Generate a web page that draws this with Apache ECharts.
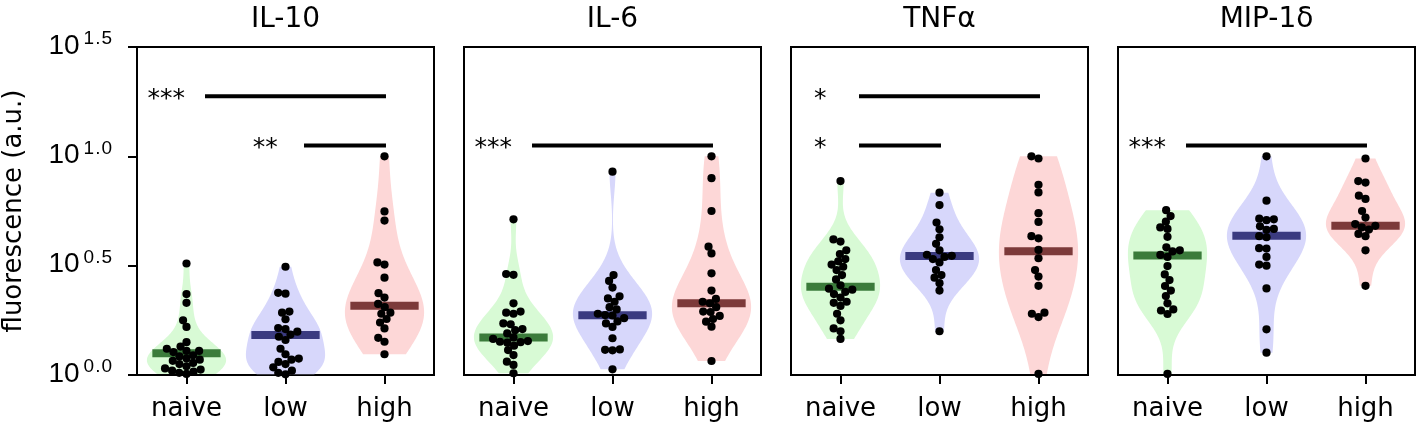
<!DOCTYPE html>
<html><head><meta charset="utf-8">
<script src="https://cdn.jsdelivr.net/npm/echarts@6/dist/echarts.min.js"></script>
<style>html,body{margin:0;padding:0;background:#fff}#c{width:1418px;height:429px}</style>
</head><body><div id="c"></div>
<script>
// ---- DATA (values are log10 of fluorescence, a.u.) ----
const panelTitles = ['IL-10', 'IL-6', 'TNFα', 'MIP-1δ'];
const groups = ['naive', 'low', 'high'];
const yTicks = [0.0, 0.5, 1.0, 1.5];

const il10Naive = [0.51, 0.37, 0.33, 0.25, 0.22, 0.15, 0.13, 0.12, 0.11, 0.11, 0.105, 0.09, 0.085, 0.075, 0.07, 0.065, 0.055, 0.05, 0.04, 0.03, 0.025, 0.02, 0.015, 0.01, 0.005];
const il10Low = [0.495, 0.376, 0.372, 0.29, 0.285, 0.255, 0.215, 0.21, 0.198, 0.185, 0.175, 0.16, 0.12, 0.095, 0.075, 0.07, 0.06, 0.05, 0.035, 0.02, 0.01, 0.003];
const il10High = [1.0, 0.748, 0.706, 0.515, 0.505, 0.445, 0.374, 0.354, 0.325, 0.31, 0.285, 0.28, 0.256, 0.24, 0.213, 0.17, 0.152, 0.095];

const il6Naive = [0.712, 0.462, 0.458, 0.328, 0.29, 0.285, 0.28, 0.236, 0.232, 0.21, 0.205, 0.19, 0.172, 0.165, 0.155, 0.152, 0.15, 0.148, 0.134, 0.114, 0.091, 0.061, 0.046, 0.008];
const il6Low = [0.93, 0.457, 0.43, 0.40, 0.36, 0.35, 0.335, 0.31, 0.30, 0.28, 0.274, 0.272, 0.26, 0.245, 0.236, 0.22, 0.168, 0.117, 0.115, 0.113, 0.026];
const il6High = [1.0, 0.90, 0.75, 0.587, 0.556, 0.465, 0.386, 0.348, 0.335, 0.328, 0.31, 0.29, 0.288, 0.27, 0.256, 0.244, 0.221, 0.064];

const tnfNaive = [0.887, 0.62, 0.61, 0.57, 0.553, 0.53, 0.52, 0.505, 0.495, 0.48, 0.457, 0.437, 0.41, 0.395, 0.39, 0.38, 0.37, 0.354, 0.335, 0.33, 0.316, 0.28, 0.25, 0.213, 0.2, 0.165];
const tnfLow = [0.834, 0.777, 0.697, 0.666, 0.63, 0.60, 0.57, 0.55, 0.545, 0.54, 0.53, 0.515, 0.48, 0.457, 0.445, 0.42, 0.386, 0.20];
const tnfHigh = [1.0, 0.99, 0.87, 0.835, 0.74, 0.70, 0.635, 0.625, 0.572, 0.534, 0.48, 0.45, 0.408, 0.285, 0.28, 0.265, 0.005];

const mipNaive = [0.754, 0.727, 0.701, 0.675, 0.668, 0.632, 0.584, 0.57, 0.565, 0.549, 0.54, 0.498, 0.46, 0.434, 0.407, 0.386, 0.361, 0.328, 0.30, 0.295, 0.279, 0.005];
const mipLow = [1.0, 0.797, 0.715, 0.712, 0.708, 0.68, 0.668, 0.664, 0.635, 0.63, 0.58, 0.578, 0.54, 0.505, 0.50, 0.396, 0.209, 0.102];
const mipHigh = [0.99, 0.887, 0.88, 0.82, 0.805, 0.75, 0.72, 0.69, 0.682, 0.675, 0.665, 0.645, 0.635, 0.57, 0.408];

// centre bars
const il10Center = [0.099, 0.183, 0.317];
const il6Center = [0.172, 0.273, 0.328];
const tnfCenter = [0.404, 0.544, 0.566];
const mipCenter = [0.546, 0.637, 0.683];

// significance: [fromGroup, toGroup, level (log10), stars]
const il10Sig = [[0, 2, 1.275, '***'], [1, 2, 1.05, '**']];
const il6Sig = [[0, 2, 1.05, '***']];
const tnfSig = [[0, 2, 1.275, '*'], [0, 1, 1.05, '*']];
const mipSig = [[0, 2, 1.05, '***']];

// ---- assembly ----
const panelValues = [
  [il10Naive, il10Low, il10High],
  [il6Naive, il6Low, il6High],
  [tnfNaive, tnfLow, tnfHigh],
  [mipNaive, mipLow, mipHigh]
];
const panelCenters = [il10Center, il6Center, tnfCenter, mipCenter];
const panelSigs = [il10Sig, il6Sig, tnfSig, mipSig];

const violinColors = ['#d8fad5', '#d7d7fb', '#fdd7d7'];
const barColors = ['#3b7b3b', '#3b3b80', '#7c3a3a'];
const FONT = 'DejaVu Sans';

const gridLeft = [137, 464, 791, 1118];
const gridW = 297, gridTop = 47, gridH = 328;

function swarm(ys, d) {
  const order = ys.map((y, i) => i).sort((a, b) => ys[b] - ys[a]);
  const placed = [];
  for (const i of order) {
    const y = ys[i];
    const nb = placed.filter(p => Math.abs(p.y - y) < d);
    const cands = [0];
    nb.forEach(p => { const dx = Math.sqrt(d * d - (p.y - y) * (p.y - y)); cands.push(p.x + dx, p.x - dx); });
    cands.sort((a, b) => (Math.abs(a) - Math.abs(b)) || (a - b));
    let x = 0;
    for (const c of cands) {
      if (nb.every(p => (p.x - c) * (p.x - c) + (p.y - y) * (p.y - y) >= d * d - 1e-6)) { x = c; break; }
    }
    placed.push({ x: x, y: y });
  }
  return placed;
}

function violinRender(pi) {
  return function (params, api) {
    const k = api.value(0);
    const vals = panelValues[pi][k];
    const band = api.size([1, 0])[0];
    const cx = api.coord([k, 0])[0];
    const n = vals.length;
    const mean = vals.reduce((a, b) => a + b, 0) / n;
    const sd = Math.sqrt(vals.reduce((a, b) => a + (b - mean) * (b - mean), 0) / (n - 1));
    const bw = sd * Math.pow(n, -0.2);
    const lo = Math.min.apply(null, vals), hi = Math.max.apply(null, vals);
    const steps = 120, ys = [], ds = [];
    for (let i = 0; i <= steps; i++) {
      const y = lo + (hi - lo) * i / steps;
      let dsum = 0;
      vals.forEach(v => { dsum += Math.exp(-0.5 * Math.pow((y - v) / bw, 2)); });
      ys.push(y); ds.push(dsum);
    }
    const dmax = Math.max.apply(null, ds);
    const half = band * 0.4;
    const right = [], left = [];
    for (let i = 0; i <= steps; i++) {
      const py = api.coord([k, ys[i]])[1];
      const w = ds[i] / dmax * half;
      right.push([cx + w, py]);
      left.unshift([cx - w, py]);
    }
    const children = [{ type: 'polygon', shape: { points: right.concat(left) }, style: { fill: violinColors[k] } }];
    const my = api.coord([k, panelCenters[pi][k]])[1];
    const bwid = band * 0.69;
    children.push({ type: 'rect', shape: { x: cx - bwid / 2, y: my - 4, width: bwid, height: 8 }, style: { fill: barColors[k] } });
    const pts = swarm(vals.map(v => api.coord([k, v])[1]), 7.4);
    pts.forEach(p => children.push({ type: 'circle', shape: { cx: cx + p.x, cy: p.y, r: 4.1 }, style: { fill: '#000' } }));
    return { type: 'group', children: children };
  };
}

function sigRender(pi) {
  return function (params, api) {
    const s = panelSigs[pi][params.dataIndex];
    const band = api.size([1, 0])[0];
    const p0 = api.coord([s[0], s[2]]);
    const p1 = api.coord([s[1], s[2]]);
    return {
      type: 'group', children: [
        { type: 'line', shape: { x1: p0[0] + 0.187 * band, y1: p0[1], x2: p1[0] + 0.015 * band, y2: p0[1] }, style: { stroke: '#000', lineWidth: 4 } },
        { type: 'text', style: { text: s[3], x: p0[0] - 0.205 * band, y: p0[1] + 3, align: 'center', verticalAlign: 'middle', fontSize: 25, fontFamily: FONT, fill: '#000' } }
      ]
    };
  };
}

const grid = [], xAxis = [], yAxis = [], series = [], graphic = [];
for (let i = 0; i < 4; i++) {
  grid.push({ left: gridLeft[i], top: gridTop, width: gridW, height: gridH, show: true, borderColor: '#000', borderWidth: 2, backgroundColor: 'transparent' });
  xAxis.push({
    type: 'category', gridIndex: i, data: groups, boundaryGap: true,
    axisLine: { show: true, lineStyle: { color: '#000', width: 2 } },
    axisTick: { show: true, alignWithLabel: true, length: 9, lineStyle: { color: '#000', width: 2 } },
    axisLabel: { color: '#000', fontSize: 26, fontFamily: FONT, margin: 34, verticalAlign: 'middle' },
    splitLine: { show: false }
  });
  yAxis.push({
    type: 'value', gridIndex: i, min: yTicks[0], max: yTicks[yTicks.length - 1], interval: 0.5,
    axisLine: { show: true, lineStyle: { color: '#000', width: 2 } },
    axisTick: { show: i === 0, length: 9, lineStyle: { color: '#000', width: 2 } },
    axisLabel: {
      show: i === 0, margin: 25, align: 'right',
      formatter: function (v) { const s = v.toFixed(1); return '{b|10}{s|' + s[0] + '}{d|.}{s|' + s[2] + '}'; },
      rich: {
        b: { fontSize: 28, fontFamily: 'Liberation Sans', color: '#000', lineHeight: 28, padding: [0, 4, 2, 0] },
        s: { fontSize: 19, fontFamily: 'Liberation Sans', color: '#000', lineHeight: 19, padding: [0, 0, 16, 0] },
        d: { fontSize: 19, fontFamily: 'Liberation Sans', color: '#000', lineHeight: 19, padding: [0, 1, 16, 1] }
      }
    },
    splitLine: { show: false }
  });
  series.push({
    type: 'custom', xAxisIndex: i, yAxisIndex: i, clip: false, z: 2,
    data: groups.map((g, k) => [k, panelCenters[i][k]]), encode: { x: 0, y: 1 },
    renderItem: violinRender(i)
  });
  series.push({
    type: 'custom', xAxisIndex: i, yAxisIndex: i, clip: false, z: 3,
    data: panelSigs[i].map(s => [s[0], s[2]]), encode: { x: 0, y: 1 },
    renderItem: sigRender(i)
  });
  graphic.push({ type: 'text', x: gridLeft[i] + gridW / 2, y: 20, style: { text: panelTitles[i], align: 'center', verticalAlign: 'middle', fontSize: 28, fontFamily: FONT, fill: '#000' } });
}
graphic.push({ type: 'text', x: 14, y: 211, rotation: Math.PI / 2, style: { text: 'fluorescence (a.u.)', align: 'center', verticalAlign: 'middle', fontSize: 26, fontFamily: FONT, fill: '#000' } });

const chart = echarts.init(document.getElementById('c'), null, { renderer: 'canvas' });
chart.setOption({ animation: false, backgroundColor: '#fff', grid: grid, xAxis: xAxis, yAxis: yAxis, series: series, graphic: graphic });
</script></body></html>
